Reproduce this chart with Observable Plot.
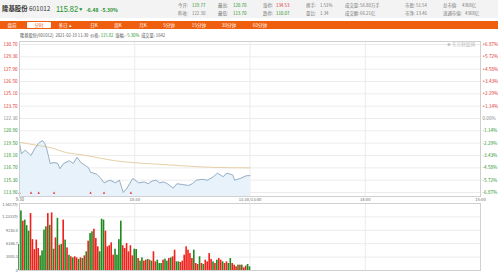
<!DOCTYPE html>
<html><head><meta charset="utf-8">
<script src="https://cdn.jsdelivr.net/npm/d3@7"></script>
<script src="https://cdn.jsdelivr.net/npm/@observablehq/plot@0.6"></script>
<style>
body{margin:0;width:498px;height:276px;overflow:hidden;background:#fff;font-family:"Noto Sans CJK SC",sans-serif;position:relative}
.a{position:absolute;white-space:nowrap;line-height:1}
#hdr{position:absolute;left:0;top:0;width:498px;height:18px;background:#f3f3f3}
#tabs{position:absolute;left:0;top:21px;width:498px;height:8px;background:#ef5d0e}
.tab{position:absolute;top:22.5px;font-size:4.6px;color:#fff;transform:translateX(-50%)}
.st{font-size:4.4px;color:#777}
.up{color:#e0302a}.dn{color:#23922a}.nm{color:#777}
#price,#vol{position:absolute;left:0}
#price{top:39px}#vol{top:198px}
</style></head><body>
<div id="hdr"></div>
<div class="a" style="left:2px;top:6px;font-size:6.4px;color:#333"><b>隆基股份</b> 601012</div>
<div class="a dn" style="left:56px;top:4px;font-size:9.5px;font-family:'Liberation Sans',sans-serif;transform:scaleX(0.78);transform-origin:left center">115.82</div>
<div class="a dn" style="left:79px;top:8px;font-size:3.4px">▼</div>
<div class="a dn" style="left:86px;top:7px;font-size:5px;font-weight:bold">-6.48&nbsp;&nbsp;-5.30%</div>
<div id="stats"></div>
<div id="tabs"></div>
<div class="a" style="left:27px;top:22px;width:24px;height:6px;background:#fff;border-radius:1px"></div>
<div id="tablabels"></div>
<div class="a" style="left:20px;top:33px;font-size:4.2px;color:#555">隆基股份[601012]&nbsp;&nbsp;2021-02-19 11:30&nbsp;&nbsp;价格: <span class="dn">115.82</span>&nbsp;&nbsp;涨幅: <span class="dn">-5.30%</span>&nbsp;&nbsp;成交量: 1642</div>
<div id="price"></div>
<div id="vol"></div>
<div class="a" style="left:447px;top:42px;font-size:4.6px;color:#bbb">◈ 东方财富网</div>
<script>
// ---- header data ----
const statLabels1 = ["今开:", "最高:", "涨停:", "换手:", "成交量:", "市盈:", "总市值:"];
const statValues1 = ["119.77", "120.70", "134.53", "1.51%", "56.80万手", "51.54", "4368亿"];
const statClass1 = ["dn", "dn", "up", "nm", "nm", "nm", "nm"];
const statLabels2 = ["昨收:", "最低:", "跌停:", "量比:", "成交额:", "市净:", "流通市值:"];
const statValues2 = ["122.30", "113.70", "110.07", "1.34", "66.21亿", "13.46", "4368亿"];
const statClass2 = ["nm", "dn", "dn", "nm", "nm", "nm", "nm"];
const statLabelX = [178, 218, 263, 306, 345, 405, 443];
const statValueX = [192, 233, 276, 320, 360, 416, 462];
const tabNames = ["盘前", "分时", "多日 ▴", "日K", "周K", "月K", "5分钟", "15分钟", "30分钟", "60分钟"];
const tabX = [12, 39, 65, 94, 118, 143, 169, 199, 229, 260];

// ---- price data (minutes from 9:30, morning session) ----
const prevClose = 122.30;
const priceTime = [0,1,3,5,6,8,10,12,13,14,15,16,18,20,21,23,26,28,30,32,34,36,37,40,42,44,47,50,52,54,56,59,62,65,67,69,71,73,75,77,80,82,85,88,90,92,95,98,101,103,106,108,111,112,115,118,120];
const priceValue = [119.5,118.3,118.7,118.3,118.1,118.9,119.5,119.8,119.5,119.0,118.1,117.2,117.3,117.2,116.6,117.2,117.5,117.2,117.9,117.3,117.0,116.7,116.2,116.0,115.6,115.0,115.3,115.0,115.3,113.9,114.4,115.5,115.0,115.1,114.9,115.2,115.3,115.0,115.1,114.9,114.4,114.9,114.8,114.7,114.9,115.3,115.4,115.3,115.7,116.1,115.7,116.1,115.9,115.3,115.5,115.8,115.82];
const avgTime = [0,8,16,25,32,42,50,59,73,84,101,120];
const avgValue = [119.6,119.3,119.0,118.4,118.2,117.8,117.5,117.3,117.1,116.95,116.75,116.7];
const priceTicks = [130.70,129.30,127.90,126.50,125.10,123.70,122.30,120.90,119.50,118.10,116.70,115.30,113.90];
const pctLabels = ["+6.87%","+5.72%","+4.58%","+3.43%","+2.29%","+1.14%","0.00%","-1.14%","-2.29%","-3.43%","-4.58%","-5.72%","-6.87%"];
const timeTicks = [0, 60, 120, 180, 240];
const timeLabels = ["9:30", "10:30", "11:30/13:00", "14:00", "15:00"];
const markerTime = [0, 6, 10, 18, 37, 44, 58];

// ---- volume data (one bar per minute) ----
const volume = [6000,13700,11350,11600,10300,9050,13100,7100,4800,7000,
5050,3370,4500,9300,10050,13100,10400,13250,4900,7500,
12000,5800,6000,11600,7000,5200,3500,3150,2900,3150,
2900,2550,2900,2750,3370,4300,6750,8500,8900,9500,
7350,5450,4300,11800,11600,9050,5450,5700,6350,3530,
4900,3530,7100,11350,5700,5050,6200,4300,5700,3370,4900,
4830,2750,2150,2900,2150,2380,2550,2380,2150,4300,
1990,2380,1610,1610,2380,2610,2150,2750,2900,3150,
4680,1990,1990,1840,2150,3530,5450,4680,3900,2750,
4680,1610,1380,3150,1610,1380,2380,1990,3900,2550,
1990,1610,2380,2750,2380,1990,1610,1990,1610,2750,
1610,1230,840,1230,1230,1230,610,1000,1380,840];
const volDir = ("ggrgggrrrrrggggrgrgrgrgrgrgrgrrgrgrgrggrrrgggrrrrrggggrrrrrrg" +
  "grggrrgrgrrgggrggrgrrggrrrrrrrgrrgrgrrrrgrgrrgrrggrrrgrgrrg").split("");
const volTicks = [0, 3083.3, 6166.7, 9250, 12333.3, 15416.7];
const volLabels = ["0", "3083.3", "6166.7", "9250.0", "1.2333万", "1.5417万"];

// ---- header rendering ----
const stats = document.getElementById("stats");
function addStats(labels, values, cls, top) {
  labels.forEach((l, i) => {
    stats.insertAdjacentHTML("beforeend",
      `<div class="a st" style="left:${statLabelX[i]}px;top:${top}px">${l}</div>` +
      `<div class="a st ${cls[i]}" style="left:${statValueX[i] + (i === 6 && top > 8 ? 3 : 0)}px;top:${top}px">${values[i]}</div>`);
  });
}
addStats(statLabels1, statValues1, statClass1, 2.5);
addStats(statLabels2, statValues2, statClass2, 10.5);
const tl = document.getElementById("tablabels");
tabNames.forEach((t, i) => {
  tl.insertAdjacentHTML("beforeend",
    `<div class="a tab" style="left:${tabX[i]}px;${i === 1 ? "color:#ef5d0e;" : ""}">${t}</div>`);
});

// ---- charts ----
const red = "#e0302a", green = "#23922a", grey = "#888";
const priceData = priceTime.map((m, i) => ({m, p: priceValue[i]}));
const avgData = avgTime.map((m, i) => ({m, p: avgValue[i]}));
const yLo = 113.45, yHi = 131.04;
const tickColor = v => Math.abs(v - prevClose) < 0.001 ? grey : (v > prevClose ? red : green);
const fontFamily = "'Noto Sans CJK SC', sans-serif";

const price = Plot.plot({
  width: 498, height: 163,
  marginLeft: 19, marginRight: 18, marginTop: 2, marginBottom: 6,
  x: {domain: [0, 240], axis: null},
  y: {domain: [yLo, yHi], axis: null},
  style: {fontFamily, background: "transparent"},
  marks: [
    Plot.gridY(priceTicks, {stroke: "#ececec", strokeOpacity: 1}),
    Plot.gridX([60, 120, 180], {stroke: "#ececec", strokeOpacity: 1}),
    Plot.areaY(priceData, {x: "m", y1: yLo, y2: "p", fill: "#e7f2fb", curve: "linear"}),
    Plot.lineY(avgData, {x: "m", y: "p", stroke: "#e6cfa6", strokeWidth: 1, curve: "monotone-x"}),
    Plot.lineY(priceData, {x: "m", y: "p", stroke: "#8ea6bf", strokeWidth: 0.9}),
    Plot.dot(markerTime, {x: d => d, y: 113.85, symbol: "triangle", r: 0.9, fill: "#e0302a", stroke: null}),
    Plot.frame({stroke: "#d0d0d0"}),
    Plot.text(priceTicks, {y: d => d, frameAnchor: "left", dx: -2, textAnchor: "end", text: d => d.toFixed(2), fill: tickColor, fontSize: 4.6}),
    Plot.text(priceTicks, {y: d => d, frameAnchor: "right", dx: 2, textAnchor: "start", text: (d, i) => pctLabels[i], fill: tickColor, fontSize: 4.6}),
    Plot.text(timeTicks, {x: d => d, frameAnchor: "bottom", dy: 3.4, dx: (0), lineAnchor: "middle",
      textAnchor: (d, i) => i === 0 ? "start" : (i === 4 ? "end" : "middle"),
      text: (d, i) => (i === 0 ? "\u2009" : "") + timeLabels[i], fill: "#666", fontSize: 4.2})
  ]
});
document.getElementById("price").append(price);

const volData = volume.map((v, i) => ({m: i, v, d: volDir[i]}));
const vol = Plot.plot({
  width: 498, height: 78,
  marginLeft: 19, marginRight: 18, marginTop: 5, marginBottom: 6,
  x: {domain: [0, 240], axis: null},
  y: {domain: [0, 15416.7], axis: null},
  style: {fontFamily, background: "transparent"},
  marks: [
    Plot.gridY(volTicks, {stroke: "#ececec", strokeOpacity: 1}),
    Plot.gridX([60, 120, 180], {stroke: "#ececec", strokeOpacity: 1}),
    Plot.rectY(volData, {x1: d => d.m - 0.42, x2: d => d.m + 0.42, y: "v", fill: d => d.d === "r" ? "#f0201a" : "#1f8a1f"}),
    Plot.frame({stroke: "#d0d0d0"}),
    Plot.text(volTicks.slice(0, 5), {y: d => d, frameAnchor: "left", dx: -1.5, textAnchor: "end", lineAnchor: "middle", text: (d, i) => volLabels[i], fill: "#666", fontSize: 3.9}),
    Plot.text(volTicks.slice(5), {y: d => d, frameAnchor: "left", dx: -1.5, dy: -0.5, textAnchor: "end", lineAnchor: "top", text: () => volLabels[5], fill: "#666", fontSize: 3.9})
  ]
});
document.getElementById("vol").append(vol);
</script>
</body></html>
